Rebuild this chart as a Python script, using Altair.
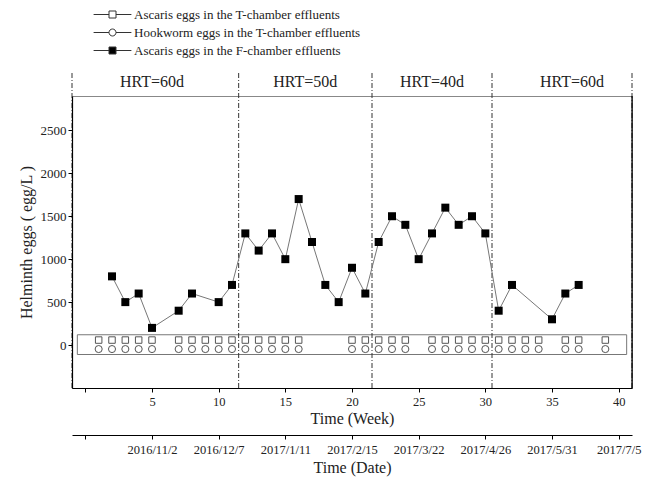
import altair as alt
import pandas as pd

# ---------------- data ----------------
series_names = [
    "Ascaris eggs in the T-chamber effluents",
    "Hookworm eggs in the  T-chamber effluents",
    "Ascaris eggs in the F-chamber effluents",
]

# F-chamber Ascaris eggs (egg/L) by week
f_weeks = [2, 3, 4, 5, 7, 8, 10, 11, 12, 13, 14, 15, 16, 17, 18, 19, 20, 21,
           22, 23, 24, 25, 26, 27, 28, 29, 30, 31, 32, 35, 36, 37]
f_values = [800, 500, 600, 200, 400, 600, 500, 700, 1300, 1100, 1300, 1000,
            1700, 1200, 700, 500, 900, 600, 1200, 1500, 1400, 1000, 1300, 1600,
            1400, 1500, 1300, 400, 700, 300, 600, 700]

# T-chamber samples (all zero eggs)
t_weeks = [1, 2, 3, 4, 5, 7, 8, 9, 10, 11, 12, 13, 14, 15, 16, 20, 21, 22, 23,
           24, 26, 27, 28, 29, 30, 31, 32, 33, 34, 36, 37, 39]
t_values = [0] * len(t_weeks)

# box around the zero samples
box_x = [-0.6]
box_x2 = [40.6]
box_y = [-110]
box_y2 = [120]

# HRT phases
phase_bounds = [-1, 11.5, 21.5, 30.5, 41]
phase_labels = ["HRT=60d", "HRT=50d", "HRT=40d", "HRT=60d"]
phase_label_x = [5, 16.5, 26, 36.5]
phase_label_y = 3060
phase_line_top = 3170

# axes
week_ticks = [0, 5, 10, 15, 20, 25, 30, 35, 40]
date_labels = ["", "2016/11/2", "2016/12/7", "2017/1/11", "2017/2/15",
               "2017/3/22", "2017/4/26", "2017/5/31", "2017/7/5"]
y_ticks = [0, 500, 1000, 1500, 2000, 2500]

X_DOMAIN = [-1, 41]
Y_DOMAIN = [-500, 2900]
FONT = "Liberation Serif"

# ---------------- frames ----------------
f_df = pd.DataFrame({"week": f_weeks, "value": f_values})
t_df = pd.DataFrame({"week": t_weeks, "value": t_values})
box_df = pd.DataFrame({"x": box_x, "x2": box_x2, "value": box_y, "y2": box_y2})
bound_df = pd.DataFrame({"x": phase_bounds, "value": [Y_DOMAIN[0]] * len(phase_bounds),
                         "y2": [phase_line_top] * len(phase_bounds)})
label_df = pd.DataFrame({"x": phase_label_x, "label": phase_labels,
                         "value": [phase_label_y] * len(phase_labels)})
legend_df = pd.DataFrame({"series": series_names, "x": [0] * 3, "value": [0] * 3})
right_df = pd.DataFrame({"x": [X_DOMAIN[1]], "value": [Y_DOMAIN[0]], "y2": [Y_DOMAIN[1]]})

xs = alt.Scale(domain=X_DOMAIN, nice=False, zero=False)
ys = alt.Scale(domain=Y_DOMAIN, nice=False, zero=False)

week_axis = alt.Axis(
    orient="bottom", values=week_ticks, title="Time (Week)",
    labelExpr="datum.value == 0 ? '' : datum.label",
    tickSize=4, labelPadding=3, titlePadding=3, zindex=1,
    labelFontSize=12.5, titleFontSize=16,
)
date_expr = "[" + ",".join("'" + s + "'" for s in date_labels) + "][round(datum.value / 5)]"
date_axis = alt.Axis(
    orient="bottom", offset=47, values=week_ticks, title="Time (Date)",
    labelExpr=date_expr, tickSize=4, labelPadding=4, titlePadding=4,
    labelFontSize=12.5, titleFontSize=16,
)
y_axis = alt.Axis(values=y_ticks, format="d", title="Helminth eggs ( egg/L )", tickSize=4,
                  labelPadding=2, titlePadding=6, labelFontSize=13, titleFontSize=16,
                  zindex=1)


def Y(field="value:Q"):
    return alt.Y(field, scale=ys, axis=y_axis)


# box
box = alt.Chart(box_df).mark_rect(fill=None, stroke="#777", strokeWidth=1).encode(
    x=alt.X("x:Q", scale=xs, axis=None), x2="x2:Q",
    y=Y(), y2="y2:Q",
)

# phase boundaries (carries the date axis)
bounds = alt.Chart(bound_df).mark_rule(
    color="#333", strokeWidth=1, strokeDash=[5, 2, 1, 2]
).encode(
    x=alt.X("x:Q", scale=xs, axis=date_axis),
    y=Y(), y2="y2:Q",
)

right = alt.Chart(right_df).mark_rule(color="black", strokeWidth=1.2).encode(
    x=alt.X("x:Q", scale=xs, axis=None),
    y=Y(), y2="y2:Q",
)

labels = alt.Chart(label_df).mark_text(
    font=FONT, fontSize=16, color="#222", baseline="middle"
).encode(
    x=alt.X("x:Q", scale=xs, axis=None),
    y=Y(),
    text="label:N",
)

# F-chamber line + squares (carries week axis)
f_line = alt.Chart(f_df).mark_line(color="#777", strokeWidth=1).encode(
    x=alt.X("week:Q", scale=xs, axis=week_axis),
    y=Y(),
)
f_pts = alt.Chart(f_df).mark_point(
    shape="square", filled=True, color="black", size=64, opacity=1
).encode(
    x=alt.X("week:Q", scale=xs, axis=None),
    y=Y(),
)

# T-chamber squares and circles
t_sq = alt.Chart(t_df).mark_point(
    shape="square", filled=False, color="#555", size=42, strokeWidth=1, yOffset=-5, opacity=1
).encode(
    x=alt.X("week:Q", scale=xs, axis=None),
    y=Y(),
)
t_ci = alt.Chart(t_df).mark_point(
    shape="circle", filled=False, color="#555", size=50, strokeWidth=1, yOffset=4, opacity=1
).encode(
    x=alt.X("week:Q", scale=xs, axis=None),
    y=Y(),
)

# legend (hidden points; legend symbols drawn by Vega)
sq_path = "M-5.4,0H-1M1,0H5.4M-1,-1H1V1H-1Z"
ci_path = "M-5.4,0H-1M1,0H5.4M1,0A1,1,0,1,1,-1,0A1,1,0,1,1,1,0Z"
leg = alt.Legend(
    title=None, orient="none", legendX=34, legendY=-88,
    symbolSize=49, symbolOpacity=1, symbolStrokeWidth=1,
    labelFont=FONT, labelFontSize=13, labelColor="#222",
    labelOffset=15, rowPadding=4, padding=0, labelLimit=400,
)
legend_layer = alt.Chart(legend_df).mark_point(filled=True, opacity=0).encode(
    x=alt.X("x:Q", scale=xs, axis=None),
    y=Y(),
    shape=alt.Shape("series:N", scale=alt.Scale(domain=series_names,
                    range=[sq_path, ci_path, sq_path]), legend=leg),
    fill=alt.Fill("series:N", scale=alt.Scale(domain=series_names,
                  range=["white", "white", "black"]), legend=leg),
    stroke=alt.Stroke("series:N", scale=alt.Scale(domain=series_names,
                      range=["#333", "#333", "#333"]), legend=leg),
)

chart = alt.layer(
    box, bounds, right, labels, f_line, f_pts, t_sq, t_ci, legend_layer
).resolve_axis(x="independent").properties(
    width=560, height=292,
    autosize=alt.AutoSizeParams(type="none"),
    padding={"left": 72, "top": 96, "right": 19, "bottom": 92},
).configure(font=FONT).configure_view(
    stroke="#888", strokeWidth=1
).configure_axis(
    labelFont=FONT, titleFont=FONT, labelColor="#222", titleColor="#222",
    titleFontWeight="normal", domainColor="black", tickColor="black",
    domainWidth=1.2, grid=False,
)

chart.save("out.html", embed_options={"renderer": "svg", "actions": False})
